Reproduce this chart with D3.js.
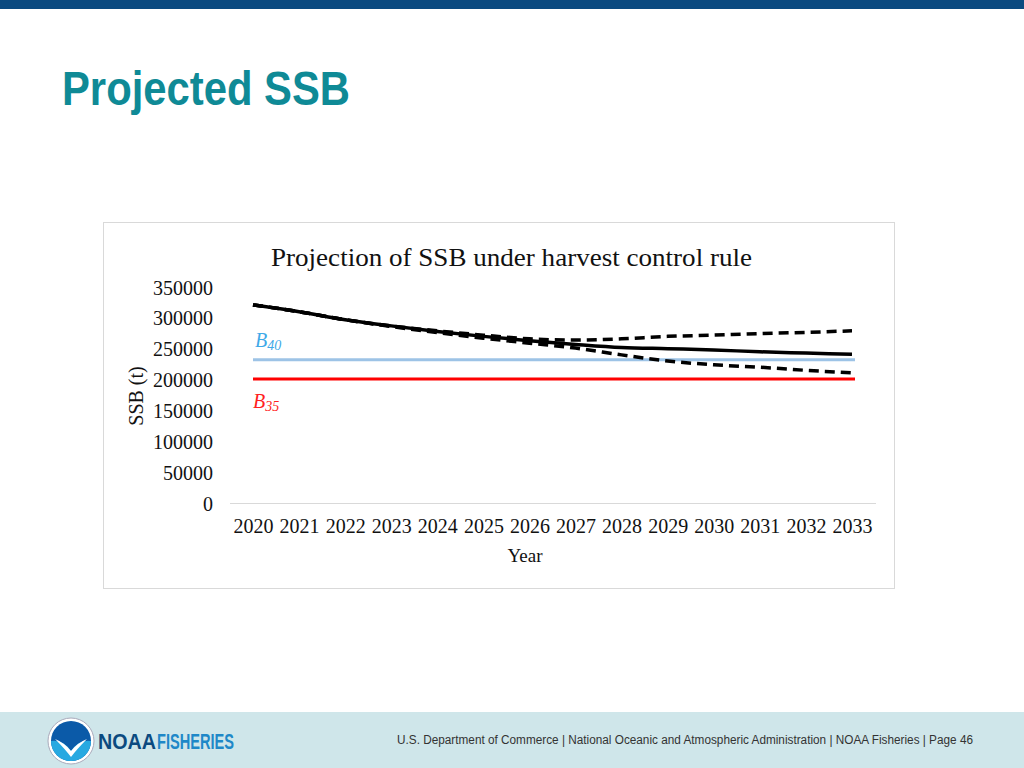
<!DOCTYPE html>
<html><head><meta charset="utf-8">
<script src="https://cdn.jsdelivr.net/npm/d3@7"></script>
<style>body{margin:0;background:#fff;}svg{display:block;}</style>
</head><body>
<svg id="c" width="1024" height="768"></svg>
<script>
const years = [2020,2021,2022,2023,2024,2025,2026,2027,2028,2029,2030,2031,2032,2033];
const median = [321000,310000,297000,287000,278000,270000,263000,257000,252000,250000,248000,245000,243000,241000];
const upper  = [321000,310000,297000,287000,279000,272000,266000,264000,266000,270000,272000,274500,276500,279000];
const lower  = [321000,310000,297000,286000,276000,267000,259000,251000,240000,230000,224000,220000,215000,211000];
const B40 = 232000;
const B35 = 201000;
const yTicks = [0,50000,100000,150000,200000,250000,300000,350000];

const svg = d3.select("#c");
const sans = "'Liberation Sans',Arial,sans-serif";
// top bar
svg.append("rect").attr("x",0).attr("y",0).attr("width",1024).attr("height",9).attr("fill","#0b4a80");
// title
svg.append("text").attr("x",62).attr("y",105).text("Projected SSB")
  .attr("font-family",sans).attr("font-weight","bold")
  .attr("font-size",48).attr("fill","#0f8a96")
  .attr("textLength",288).attr("lengthAdjust","spacingAndGlyphs");
// footer
svg.append("rect").attr("x",0).attr("y",712).attr("width",1024).attr("height",56).attr("fill","#cfe6ea");
svg.append("text").attr("x",397).attr("y",744)
  .attr("font-family",sans).attr("font-size",12).attr("fill","#333")
  .attr("textLength",576).attr("lengthAdjust","spacingAndGlyphs")
  .text("U.S. Department of Commerce | National Oceanic and Atmospheric Administration | NOAA Fisheries | Page 46");
// logo
const lg = svg.append("g").attr("transform","translate(71,741)");
lg.append("circle").attr("r",23).attr("fill","#fff").attr("stroke","#aab").attr("stroke-width",1);
lg.append("circle").attr("r",20).attr("fill","#0b5aa8");
lg.append("path").attr("d","M-20,0 A20,20 0 0,0 20,0 Q8,-2 0,10 Q-8,-2 -20,0Z").attr("fill","#27a9e1");
lg.append("path").attr("d","M-16,-2 Q-6,2 0,10 Q6,2 16,-2 Q6,8 0,16 Q-6,8 -16,-2Z").attr("fill","#fff");
svg.append("text").attr("x",98).attr("y",749).text("NOAA")
  .attr("font-family",sans).attr("font-weight","bold")
  .attr("font-size",22).attr("fill","#0b4a80").attr("textLength",58).attr("lengthAdjust","spacingAndGlyphs");
svg.append("text").attr("x",157).attr("y",749).text("FISHERIES")
  .attr("font-family",sans).attr("font-weight","bold")
  .attr("font-size",22).attr("fill","#1e88c8").attr("textLength",77).attr("lengthAdjust","spacingAndGlyphs");

// chart box
svg.append("rect").attr("x",103.5).attr("y",222.5).attr("width",791).attr("height",366)
  .attr("fill","#fff").attr("stroke","#d9d9d9");
const serif = "'Liberation Serif','Times New Roman',serif";
svg.append("text").attr("x",271).attr("y",266).attr("font-family",serif)
  .attr("font-size",26).attr("fill","#111").attr("textLength",481).attr("lengthAdjust","spacingAndGlyphs")
  .text("Projection of SSB under harvest control rule");

const x = d3.scaleLinear().domain([2020,2033]).range([253,852]);
const y = d3.scaleLinear().domain([0,350000]).range([503,287]);

// x axis line
svg.append("line").attr("x1",230).attr("x2",876).attr("y1",503.5).attr("y2",503.5).attr("stroke","#d9d9d9").attr("stroke-width",1.2);

const yAxis = d3.axisLeft(y).tickValues(yTicks).tickSize(0).tickPadding(0).tickFormat(d3.format("d"));
const gy = svg.append("g").attr("transform","translate(213,0)").call(yAxis);
gy.select(".domain").remove();
gy.selectAll("text").attr("font-family",serif).attr("font-size",20).attr("fill","#111").attr("dy","0.35em");

const xAxis = d3.axisBottom(x).tickValues(years).tickSize(0).tickPadding(0).tickFormat(d3.format("d"));
const gx = svg.append("g").attr("transform","translate(0,519)").call(xAxis);
gx.select(".domain").remove();
gx.selectAll("text").attr("font-family",serif).attr("font-size",20).attr("fill","#111").attr("dy","0.71em");

svg.append("text").attr("x",525).attr("y",562).attr("text-anchor","middle").attr("font-family",serif)
  .attr("font-size",19).attr("fill","#111").text("Year");
svg.append("text").attr("transform","translate(143,396) rotate(-90)").attr("text-anchor","middle").attr("font-family",serif)
  .attr("font-size",20).attr("fill","#111").text("SSB (t)");

// reference lines
svg.append("line").attr("x1",x(2020)).attr("x2",x(2033)+3).attr("y1",y(B40)).attr("y2",y(B40)).attr("stroke","#9dc3e6").attr("stroke-width",3);
svg.append("line").attr("x1",x(2020)).attr("x2",x(2033)+3).attr("y1",y(B35)).attr("y2",y(B35)).attr("stroke","#ff0000").attr("stroke-width",3);

const line = d3.line().x((d,i)=>x(years[i])).y(d=>y(d)).curve(d3.curveMonotoneX);
svg.append("path").attr("d",line(median)).attr("fill","none").attr("stroke","#000").attr("stroke-width",3.5);
svg.append("path").attr("d",line(upper)).attr("fill","none").attr("stroke","#000").attr("stroke-width",3.5).attr("stroke-dasharray","10,6");
svg.append("path").attr("d",line(lower)).attr("fill","none").attr("stroke","#000").attr("stroke-width",3.5).attr("stroke-dasharray","10,6");

// B labels
const t40 = svg.append("text").attr("x",255).attr("y",347).attr("font-family",serif).attr("font-style","italic")
  .attr("font-size",20).attr("fill","#3fa9e8");
t40.append("tspan").text("B");
t40.append("tspan").attr("font-size",14).attr("dy",3).text("40");
const t35 = svg.append("text").attr("x",253).attr("y",408).attr("font-family",serif).attr("font-style","italic")
  .attr("font-size",20).attr("fill","#ff2020");
t35.append("tspan").text("B");
t35.append("tspan").attr("font-size",14).attr("dy",3).text("35");
</script>
</body></html>
